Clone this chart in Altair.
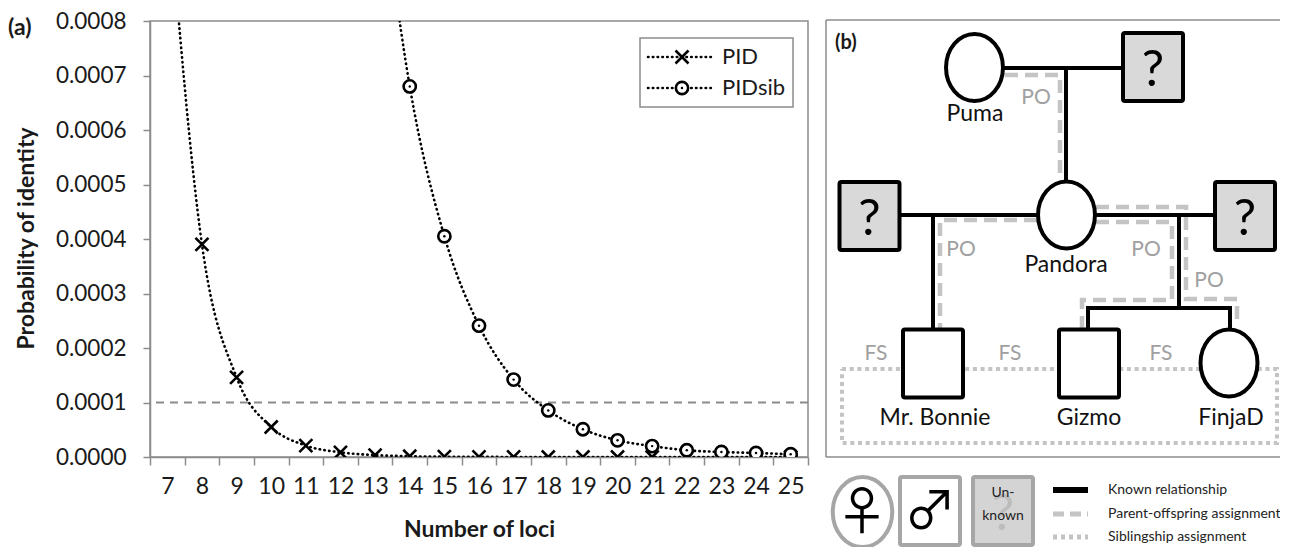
import altair as alt
import pandas as pd

# ---------------- Panel (a) data ----------------
loci = list(range(7, 26))
pid_values = [0.00105, 0.00039, 0.000146, 0.000055, 0.000021, 0.0000085, 0.0000035,
              0.0000014, 0.0000006, 0.00000025, 0.0000001, 0.00000004, 0.00000002,
              0.00000001, 0.0, 0.0, 0.0, 0.0, 0.0]
sib_loci = list(range(13, 26))
pidsib_values = [0.00115, 0.00068, 0.000405, 0.000241, 0.000142, 0.0000855, 0.000051,
                 0.0000306, 0.00002, 0.0000123, 0.0000092, 0.0000073, 0.000005]
threshold = [0.0001]
y_ticks = [0, 0.0001, 0.0002, 0.0003, 0.0004, 0.0005, 0.0006, 0.0007, 0.0008]
legend_a = ["PID", "PIDsib"]

# ---------------- Panel (b) data ----------------
node_id = ["Puma", "U1", "Pandora", "U2", "U3", "Mr. Bonnie", "Gizmo", "FinjaD"]
node_sex = ["F", "U", "F", "U", "U", "M", "M", "F"]
node_x = [148.5, 327, 240.5, 43.5, 419, 107, 263, 403]
node_y = [47.5, 47, 195, 196, 196, 343.5, 343.5, 343]
name_text = ["Puma", "Pandora", "Mr. Bonnie", "Gizmo", "FinjaD"]
name_x = [149, 240, 109, 263, 405]
name_y = [94, 245, 398, 398, 398]

known_x1 = [148.5, 240, 43.5, 240.5, 107, 353, 262, 262, 404]
known_y1 = [48, 48, 195, 195, 195, 195, 288, 288, 288]
known_x2 = [327, 240, 240.5, 419, 107, 353, 404, 262, 404]
known_y2 = [48, 195, 195, 195, 343, 288, 288, 343, 343]

po_paths = {
    "po1": [(179, 55), (234, 55), (234, 155)],
    "po2": [(211, 200), (114, 200), (114, 308)],
    "po3": [(270, 202), (346, 202), (346, 280), (256, 280), (256, 308)],
    "po4": [(270, 187), (360, 187), (360, 279), (411, 279), (411, 303)],
}
fs_path = [(16, 349), (451, 349), (451, 423), (16, 423), (16, 349)]
po_labels = ["PO", "PO", "PO", "PO"]
po_lx = [210, 135, 320, 383]
po_ly = [78, 230, 230, 261]
fs_labels = ["FS", "FS", "FS"]
fs_lx = [50, 184, 335]
fs_ly = [334, 334, 334]
rel_legend = ["Known relationship", "Parent-offspring assignment", "Siblingship assignment"]

FONT = "Lato"
X_PATH = "M-1,-1L1,1M-1,1L1,-1"
ELL_PATH = "M0,-1A0.85,1 0 1,1 0,1A0.85,1 0 1,1 0,-1Z"

# ================= Panel (a) =================
df_pid = pd.DataFrame({"loci": loci, "value": pid_values})
df_sib = pd.DataFrame({"loci": sib_loci, "value": pidsib_values})

x_axis = alt.Axis(title="Number of loci", tickBand="extent", labelAngle=0,
                  labelFont=FONT, labelFontSize=23, labelColor="#1a1a1a", labelPadding=10,
                  tickColor="#8c8c8c", tickSize=8, tickWidth=1.5,
                  domainColor="#8c8c8c", domainWidth=1.5, grid=False,
                  titleFont=FONT, titleFontSize=23, titleFontWeight="bold",
                  titleColor="#1a1a1a", titleY=72, titleBaseline="middle")
y_axis = alt.Axis(title="Probability of identity", values=y_ticks, format=".4f",
                  labelFont=FONT, labelFontSize=22.5, labelColor="#1a1a1a", labelPadding=17,
                  tickColor="#8c8c8c", tickSize=7, tickWidth=1.5,
                  domainColor="#8c8c8c", domainWidth=1.5, grid=False,
                  titleFont=FONT, titleFontSize=23, titleFontWeight="bold",
                  titleColor="#1a1a1a", titleAngle=270, titleX=-124, titleY=217,
                  titleAlign="center", titleBaseline="middle")

xs = alt.Scale(type="band", domain=loci, paddingInner=0, paddingOuter=0)
ys = alt.Scale(domain=[0, 0.0008], nice=False, zero=True)
X = alt.X("loci:O", scale=xs, axis=x_axis)
Y = alt.Y("value:Q", scale=ys, axis=y_axis)

thr = alt.Chart(pd.DataFrame({"value": threshold})).mark_rule(
    color="#8c8c8c", strokeWidth=2, strokeDash=[8, 6]).encode(y=Y)

dotted = dict(color="black", strokeWidth=2.6, strokeDash=[0.5, 4.3], strokeCap="round",
              interpolate="monotone", clip=True)
pid_line = alt.Chart(df_pid).mark_line(**dotted).encode(x=X, y=Y)
sib_line = alt.Chart(df_sib).mark_line(**dotted).encode(x=X, y=Y)
pid_pts = alt.Chart(df_pid).mark_point(shape=X_PATH, size=169, strokeWidth=2.6,
                                       color="black", opacity=1, clip=True).encode(x=X, y=Y)
sib_pts = alt.Chart(df_sib).mark_point(shape="circle", size=150, filled=True, fill="white",
                                       stroke="black", strokeWidth=2.6, opacity=1,
                                       clip=True).encode(x=X, y=Y)
sib_dot = alt.Chart(df_sib).mark_point(shape="circle", size=6, filled=True, color="black",
                                       opacity=1, clip=True).encode(x=X, y=Y)

one = pd.DataFrame({"t": [""]})
leg_box = alt.Chart(one).mark_rect(fill="white", stroke="#8c8c8c", strokeWidth=1.5).encode(
    x=alt.value(490), x2=alt.value(643), y=alt.value(17), y2=alt.value(86))
leg_parts = [leg_box]
for i, lab in enumerate(legend_a):
    yy = 36 + i * 31
    leg_parts.append(alt.Chart(one).mark_rule(color="black", strokeWidth=2.6,
                                              strokeDash=[0.5, 4.3], strokeCap="round").encode(
        x=alt.value(498), x2=alt.value(563), y=alt.value(yy)))
    if i == 0:
        leg_parts.append(alt.Chart(one).mark_point(shape=X_PATH, size=169, strokeWidth=2.6,
                                                   color="black", opacity=1).encode(
            x=alt.value(532), y=alt.value(yy)))
    else:
        leg_parts.append(alt.Chart(one).mark_point(shape="circle", size=150, filled=True,
                                                   fill="white", stroke="black",
                                                   strokeWidth=2.6, opacity=1).encode(
            x=alt.value(532), y=alt.value(yy)))
        leg_parts.append(alt.Chart(one).mark_point(shape="circle", size=6, filled=True,
                                                   color="black", opacity=1).encode(
            x=alt.value(532), y=alt.value(yy)))
    leg_parts.append(alt.Chart(pd.DataFrame({"t": [lab]})).mark_text(
        font=FONT, fontSize=22, align="left", baseline="middle", color="#1a1a1a").encode(
        x=alt.value(572), y=alt.value(yy), text="t:N"))

label_a = alt.Chart(pd.DataFrame({"t": ["(a)"]})).mark_text(
    font=FONT, fontSize=23, fontWeight="bold", align="left", baseline="middle",
    color="#1a1a1a").encode(x=alt.value(-142), y=alt.value(7), text="t:N")

panel_a = alt.layer(thr, pid_line, sib_line, pid_pts, sib_pts, sib_dot, *leg_parts, label_a)

# ================= Panel (b) =================
# panel (b) coordinates: origin at the top-left corner of its frame
bx = alt.Scale(domain=[0, 470], range=[676, 1146], nice=False, zero=False)
by = alt.Scale(domain=[0, 527], range=[-1, 526], nice=False, zero=False)


def BX(f):
    return alt.X(f, type="quantitative", scale=bx, axis=None)


def BY(f):
    return alt.Y(f, type="quantitative", scale=by, axis=None)


SQ_W, SQ_H = 60, 68
nodes = pd.DataFrame({"id": node_id, "sex": node_sex, "x": node_x, "y": node_y})
nodes["x1"] = nodes["x"] - SQ_W / 2
nodes["x2"] = nodes["x"] + SQ_W / 2
nodes["y1"] = nodes["y"] - SQ_H / 2
nodes["y2"] = nodes["y"] + SQ_H / 2
squares = nodes[nodes["sex"] != "F"].copy()
squares["fill"] = squares["sex"].map({"U": "#d9d9d9", "M": "white"})
circles = nodes[nodes["sex"] == "F"]
unknowns = nodes[nodes["sex"] == "U"].assign(q="?")

# frame of panel (b): open on the right (it runs past the picture's edge)
frame = alt.Chart(pd.DataFrame({"x1": [0, 0, 0], "x2": [490, 490, 0],
                                "y1": [0, 437, 0], "y2": [0, 437, 437]})).mark_rule(
    color="#8c8c8c", strokeWidth=1.5).encode(x=BX("x1"), x2="x2", y=BY("y1"), y2="y2")

fs_df = pd.DataFrame({"i": range(len(fs_path)), "x": [p[0] for p in fs_path],
                      "y": [p[1] for p in fs_path]})
fs_line = alt.Chart(fs_df).mark_line(color="#c4c4c4", strokeWidth=4, strokeDash=[4, 3.7],
                                      strokeJoin="miter").encode(
    x=BX("x"), y=BY("y"), order="i:Q")

po_rows = []
for k, pts in po_paths.items():
    for i, (px, py) in enumerate(pts):
        po_rows.append({"path": k, "i": i, "x": px, "y": py})
po_line = alt.Chart(pd.DataFrame(po_rows)).mark_line(
    color="#c4c4c4", strokeWidth=4.5, strokeDash=[13, 7], strokeJoin="miter").encode(
    x=BX("x"), y=BY("y"), detail="path:N", order="i:Q")

known = alt.Chart(pd.DataFrame({"x1": known_x1, "y1": known_y1, "x2": known_x2,
                                "y2": known_y2})).mark_rule(
    color="black", strokeWidth=4, strokeCap="square").encode(
    x=BX("x1"), x2="x2", y=BY("y1"), y2="y2")

sq = alt.Chart(squares).mark_rect(stroke="black", strokeWidth=4, cornerRadius=2).encode(
    x=BX("x1"), x2="x2", y=BY("y1"), y2="y2", fill=alt.Fill("fill:N", scale=None))
circ = alt.Chart(circles).mark_point(shape=ELL_PATH, size=67 * 67, filled=True, fill="white",
                                     stroke="black", strokeWidth=4, opacity=1).encode(
    x=BX("x"), y=BY("y"))
qmarks = alt.Chart(unknowns).mark_text(font=FONT, fontSize=50, color="black",
                                       baseline="alphabetic", dy=19).encode(
    x=BX("x"), y=BY("y"), text="q:N")

names = alt.Chart(pd.DataFrame({"t": name_text, "x": name_x, "y": name_y})).mark_text(
    font=FONT, fontSize=23, color="#111111", baseline="middle").encode(
    x=BX("x"), y=BY("y"), text="t:N")
po_txt = alt.Chart(pd.DataFrame({"t": po_labels, "x": po_lx, "y": po_ly})).mark_text(
    font=FONT, fontSize=21, color="#a0a0a0", baseline="middle").encode(
    x=BX("x"), y=BY("y"), text="t:N")
fs_txt = alt.Chart(pd.DataFrame({"t": fs_labels, "x": fs_lx, "y": fs_ly})).mark_text(
    font=FONT, fontSize=21, color="#a0a0a0", baseline="middle").encode(
    x=BX("x"), y=BY("y"), text="t:N")
label_b = alt.Chart(pd.DataFrame({"t": ["(b)"], "x": [9], "y": [23]})).mark_text(
    font=FONT, fontSize=20, fontWeight="bold", align="left", baseline="middle",
    color="#1a1a1a").encode(x=BX("x"), y=BY("y"), text="t:N")

# bottom legend of panel (b)
leg_f = alt.Chart(pd.DataFrame({"x": [36.5], "y": [492]})).mark_point(
    shape=ELL_PATH, size=70 * 70, filled=True, fill="white", stroke="#a6a6a6",
    strokeWidth=4, opacity=1).encode(x=BX("x"), y=BY("y"))
leg_sq = alt.Chart(pd.DataFrame({"x1": [74, 147], "x2": [134, 207], "y1": [457, 457],
                                 "y2": [525, 525], "fill": ["white", "#d4d4d4"]})).mark_rect(
    stroke="#a6a6a6", strokeWidth=4, cornerRadius=2).encode(
    x=BX("x1"), x2="x2", y=BY("y1"), y2="y2", fill=alt.Fill("fill:N", scale=None))
leg_q = alt.Chart(pd.DataFrame({"t": ["?"], "x": [177], "y": [491]})).mark_text(
    font=FONT, fontSize=50, color="#bcbcbc", baseline="alphabetic", dy=19).encode(
    x=BX("x"), y=BY("y"), text="t:N")
leg_sym = alt.Chart(pd.DataFrame({"t": ["\u2640", "\u2642"], "x": [36, 104],
                                  "y": [494, 493]})).mark_text(
    font="Noto Sans CJK JP", fontSize=52, fontWeight="normal", color="black",
    baseline="middle").encode(x=BX("x"), y=BY("y"), text="t:N")
leg_unk = alt.Chart(pd.DataFrame({"t": ["Un-", "known"], "x": [177, 177],
                                  "y": [473, 496]})).mark_text(
    font=FONT, fontSize=14, color="#222222", baseline="middle").encode(
    x=BX("x"), y=BY("y"), text="t:N")
leg_known = alt.Chart(pd.DataFrame({"x1": [227], "x2": [262], "y": [470]})).mark_rule(
    color="black", strokeWidth=6).encode(x=BX("x1"), x2="x2", y=BY("y"))
leg_po = alt.Chart(pd.DataFrame({"x1": [227], "x2": [262], "y": [494]})).mark_rule(
    color="#c4c4c4", strokeWidth=5, strokeDash=[11, 6]).encode(x=BX("x1"), x2="x2", y=BY("y"))
leg_fs = alt.Chart(pd.DataFrame({"x1": [227], "x2": [262], "y": [517]})).mark_rule(
    color="#c4c4c4", strokeWidth=5, strokeDash=[4, 4]).encode(x=BX("x1"), x2="x2", y=BY("y"))
leg_txt = alt.Chart(pd.DataFrame({"t": rel_legend, "x": [282, 282, 282],
                                  "y": [470, 494, 517]})).mark_text(
    font=FONT, fontSize=14, color="#222222", align="left", baseline="middle").encode(
    x=BX("x"), y=BY("y"), text="t:N")

panel_b = alt.layer(frame, fs_line, po_line, known, sq, circ, qmarks, names, po_txt, fs_txt,
                    label_b, leg_f, leg_sq, leg_q, leg_sym, leg_unk, leg_known, leg_po,
                    leg_fs, leg_txt)

chart = alt.layer(panel_a, panel_b).resolve_scale(
    x="independent", y="independent"
).properties(
    width=658, height=436,
    autosize=alt.AutoSizeParams(type="none"),
    padding={"left": 142, "top": 13, "right": 472, "bottom": 90},
    background="white",
).configure_view(stroke="#8c8c8c", strokeWidth=1.5)

chart.save("out.html", embed_options={"renderer": "svg", "actions": False})
